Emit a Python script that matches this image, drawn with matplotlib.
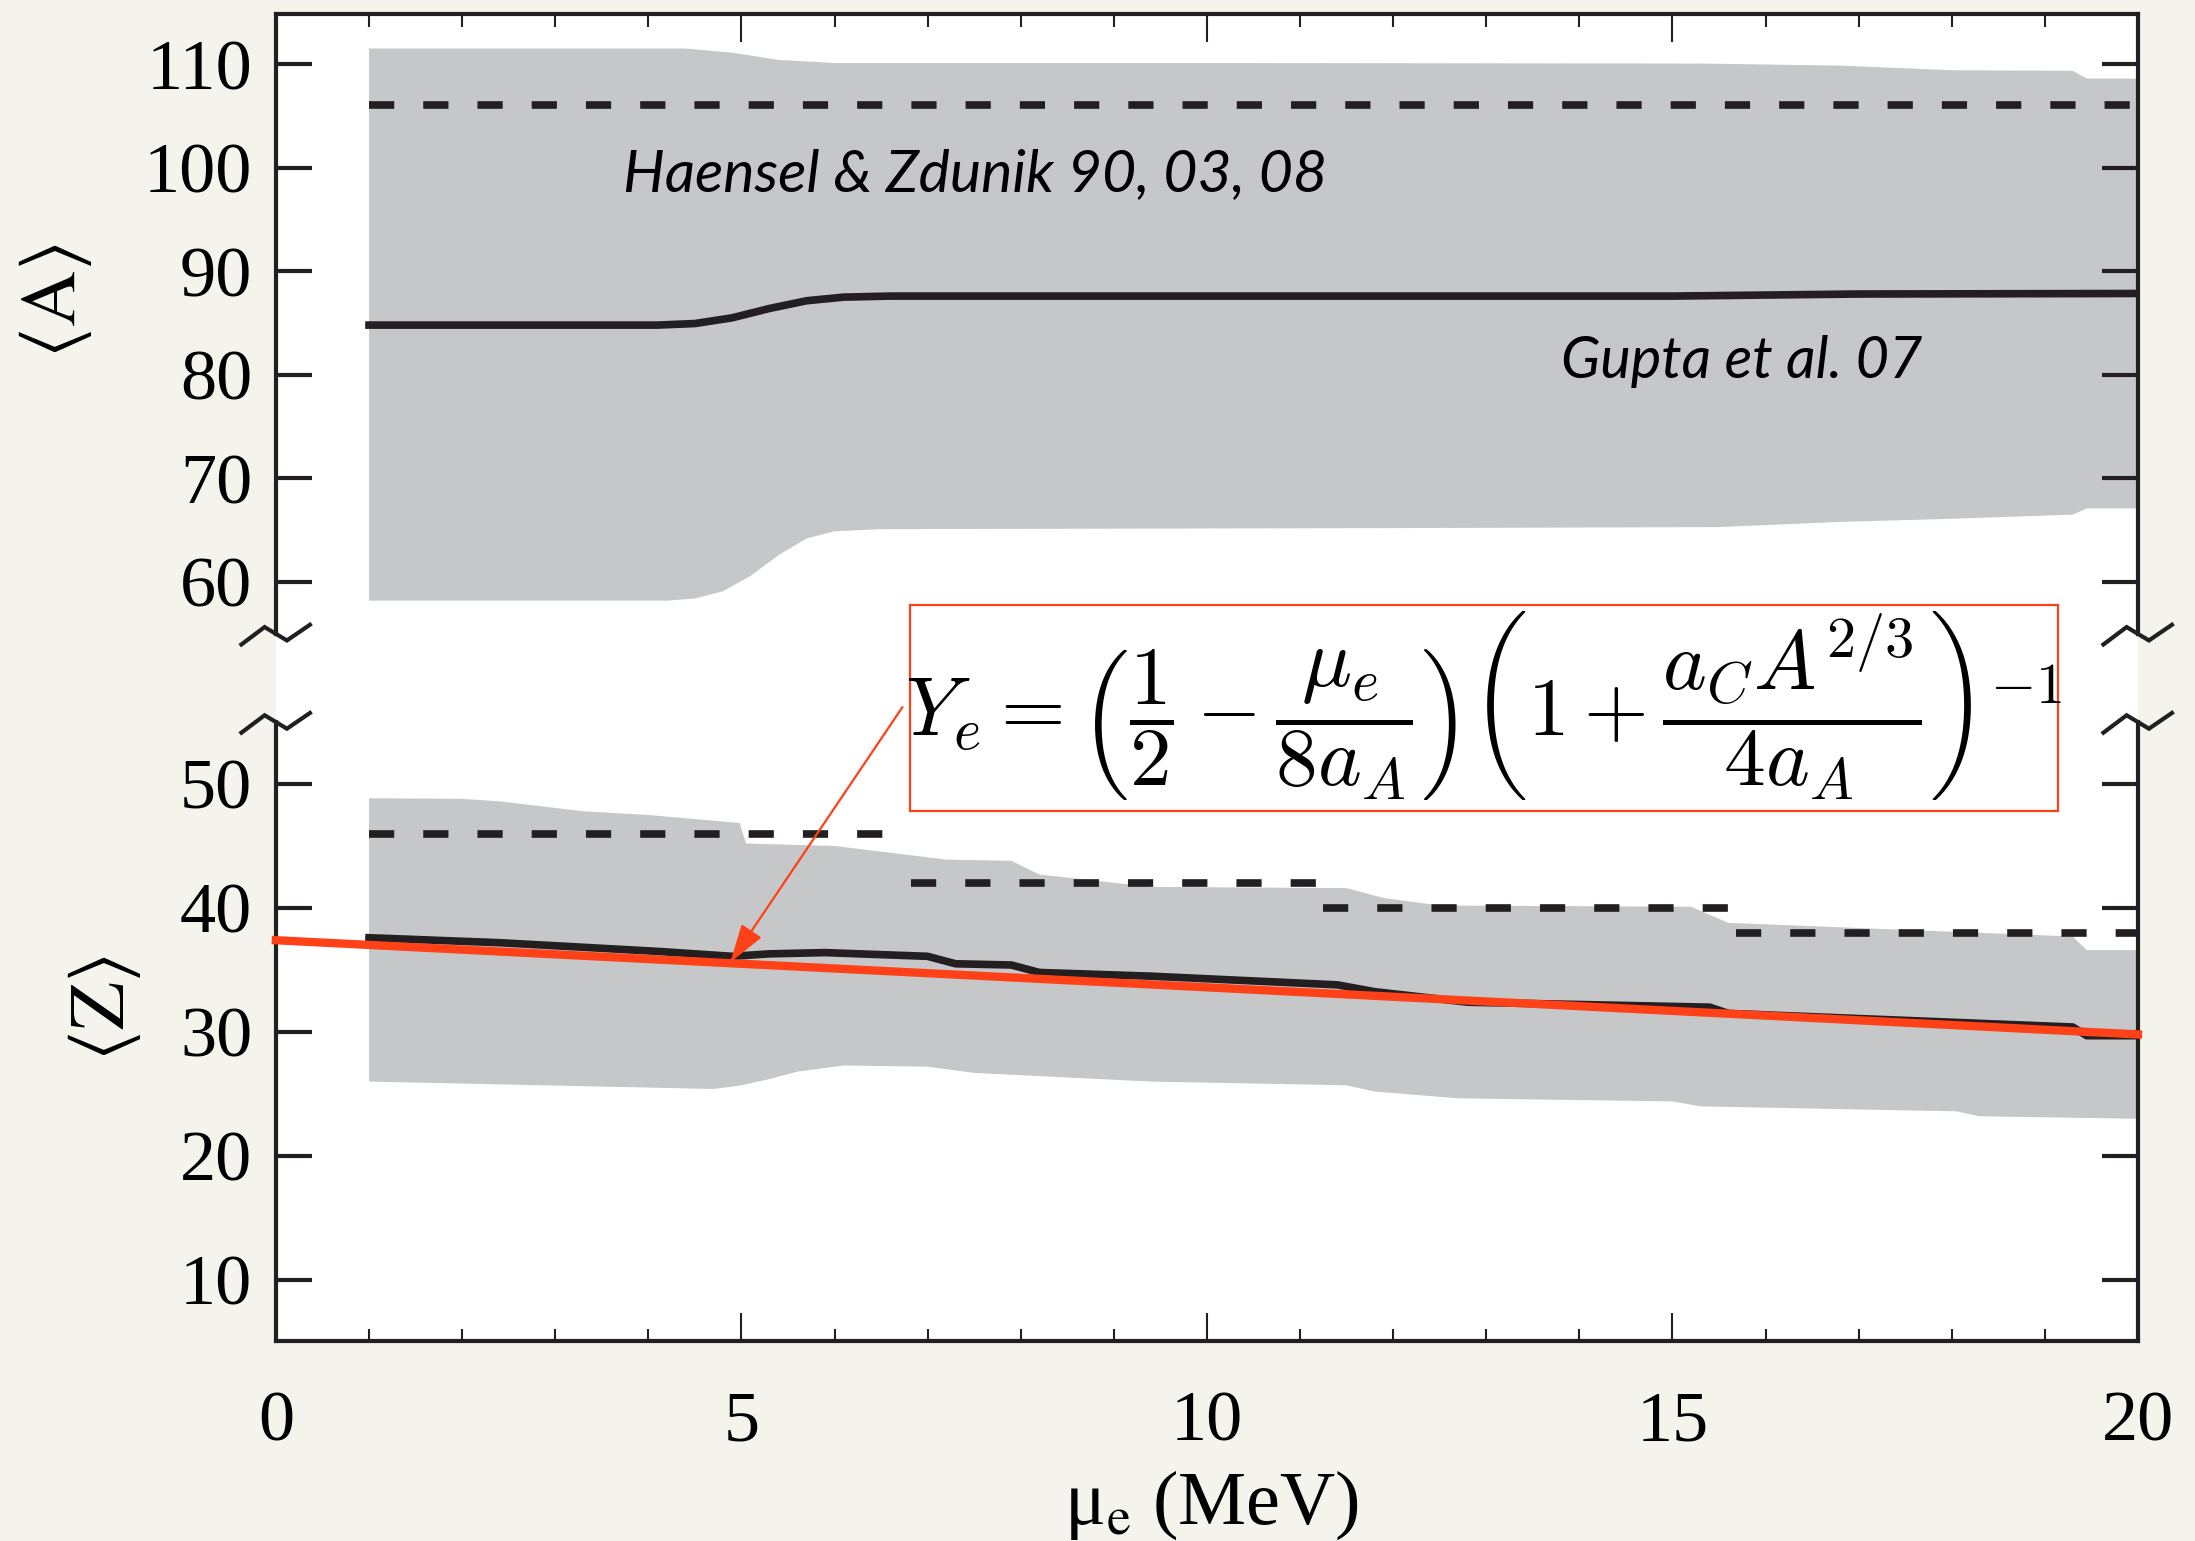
import matplotlib
matplotlib.use('Agg')
import matplotlib.pyplot as plt
import matplotlib.transforms as mtransforms
from matplotlib.patches import Rectangle
from matplotlib.ticker import MultipleLocator

# ---- top panel: <A> vs mu_e ----
a_hi_mu = [1, 4.4, 4.9, 5.4, 6.0, 10, 15.3, 16.8, 18.0, 19.3, 19.45, 20]
a_hi = [111.5, 111.5, 111.1, 110.4, 110.1, 110.1, 110.05, 109.85, 109.4, 109.35, 108.6, 108.6]
a_lo_mu = [1, 4.2, 4.5, 4.8, 5.1, 5.4, 5.7, 6.0, 6.5, 12, 15.5, 16.8, 18, 19.3, 19.45, 20]
a_lo = [58.2, 58.2, 58.4, 59.1, 60.6, 62.6, 64.2, 64.9, 65.1, 65.2, 65.3, 65.8, 66.1, 66.5, 67.1, 67.1]
a_mu = [1, 4.1, 4.5, 4.9, 5.3, 5.7, 6.1, 6.6, 10, 15, 17, 20]
a_mean = [84.8, 84.8, 84.95, 85.5, 86.4, 87.15, 87.5, 87.6, 87.6, 87.6, 87.8, 87.85]
hz_a_mu = [1, 20]
hz_a = [106, 106]

# ---- bottom panel: <Z> vs mu_e ----
z_hi_mu = [1, 2.0, 2.4, 3.3, 4.0, 4.98, 5.05, 6.0, 7.2, 7.9, 8.2, 9.4, 11.5, 11.9, 12.5, 15.2, 15.6, 19.3, 19.45, 20]
z_hi = [48.85, 48.8, 48.6, 47.8, 47.5, 46.85, 45.2, 45.0, 43.9, 43.8, 42.7, 41.7, 41.6, 40.8, 40.2, 40.1, 38.8, 37.7, 36.6, 36.6]
z_lo_mu = [1, 4.1, 4.7, 5.0, 5.3, 5.6, 6.1, 7.0, 7.5, 9.4, 11.5, 11.8, 12.7, 15.0, 15.3, 18.05, 18.3, 20]
z_lo = [26.0, 25.5, 25.4, 25.7, 26.2, 26.8, 27.3, 27.2, 26.7, 26.0, 25.7, 25.2, 24.65, 24.4, 24.0, 23.6, 23.2, 23.0]
z_mu = [1, 2.4, 4.1, 4.9, 5.3, 5.9, 7.0, 7.3, 7.9, 8.2, 9.4, 11.4, 11.8, 12.8, 15.4, 15.6, 19.3, 19.45, 20]
z_mean = [37.6, 37.2, 36.5, 36.1, 36.3, 36.4, 36.1, 35.5, 35.4, 34.8, 34.5, 33.8, 33.25, 32.4, 32.0, 31.5, 30.4, 29.7, 29.7]
hz_z_start = [1, 6.82, 11.25, 15.68]
hz_z_end = [6.75, 11.25, 15.68, 20]
hz_z = [46, 42, 40, 38]
fit_mu = [0, 20]
fit_z = [37.4, 29.8]

ink = '#231F20'
band = '#C6C7C9'
red = '#FF4117'
bg = '#F4F3EC'

plt.rcParams['font.family'] = 'Liberation Serif'

fig = plt.figure(figsize=(21.95, 15.41), dpi=100, facecolor=bg)
ax_a = fig.add_axes([0.1257, 0.5607, 0.8483, 0.4302])
ax_z = fig.add_axes([0.1257, 0.1298, 0.8483, 0.4309])

ax_a.fill(a_hi_mu + a_lo_mu[::-1], a_hi + a_lo[::-1], color=band, lw=0)
ax_a.plot(hz_a_mu, hz_a, color=ink, lw=5.5, dashes=(3.3, 3.8))
ax_a.plot(a_mu, a_mean, color=ink, lw=5.5)
ax_a.text(3.73, 99.3, 'Haensel & Zdunik 90, 03, 08', family='Lato', style='italic',
          fontsize=42.5, va='center', ha='left', color='black')
ax_a.text(13.8, 81.3, 'Gupta et al. 07', family='Lato', style='italic',
          fontsize=41.5, va='center', ha='left', color='black')

ax_z.fill(z_hi_mu + z_lo_mu[::-1], z_hi + z_lo[::-1], color=band, lw=0)
for x0, x1, z in zip(hz_z_start, hz_z_end, hz_z):
    ax_z.plot([x0, x1], [z, z], color=ink, lw=5.5, dashes=(3.3, 3.8))
ax_z.plot(z_mu, z_mean, color=ink, lw=5.5)
ax_z.plot(fit_mu, fit_z, color=red, lw=6, solid_capstyle='projecting', clip_on=False, zorder=5)
ax_z.annotate('', xy=(4.88, 35.6), xytext=(6.73, 56.2),
              arrowprops=dict(arrowstyle='-|>,head_length=0.8,head_width=0.25', color=red,
                              lw=1.6, mutation_scale=30, shrinkA=0, shrinkB=0), zorder=6)

# limits
ax_a.set_xlim(0, 20)
ax_z.set_xlim(0, 20)
ax_a.set_ylim(50.83, 114.83)
ax_z.set_ylim(5.08, 58.63)

for ax in (ax_a, ax_z):
    ax.set_facecolor('white')
    for s in ax.spines.values():
        s.set_linewidth(3)
        s.set_color(ink)
    ax.xaxis.set_major_locator(MultipleLocator(5))
    ax.xaxis.set_minor_locator(MultipleLocator(1))
    ax.tick_params(axis='x', which='major', direction='in', length=20, width=1.5, color=ink)
    ax.tick_params(axis='x', which='minor', direction='in', length=9, width=1.5, color=ink)
    ax.tick_params(axis='y', which='major', direction='in', length=26, width=3, color=ink,
                   left=True, right=True, labelsize=52, pad=17)

ax_a.spines['bottom'].set_visible(False)
ax_z.spines['top'].set_visible(False)
ax_a.spines['left'].set_bounds(55, 114.83)
ax_a.spines['right'].set_bounds(55, 114.83)
ax_z.spines['left'].set_bounds(5.08, 55)
ax_z.spines['right'].set_bounds(5.08, 55)

ax_a.set_yticks([60, 70, 80, 90, 100, 110])
ax_z.set_yticks([10, 20, 30, 40, 50])
ax_a.tick_params(axis='x', which='both', top=True, bottom=False, labelbottom=False, labeltop=False)
ax_z.tick_params(axis='x', which='both', top=False, bottom=True, labelsize=52, pad=36)

# axis-break zigzags on the spines
zx = [-0.345, -0.113, 0.11, 0.34]
zy = [-0.107, 0.067, -0.067, 0.09]


def zigzag(ax, xa, ya):
    base = mtransforms.blended_transform_factory(ax.transAxes, ax.transData)
    tr = fig.dpi_scale_trans + mtransforms.ScaledTranslation(xa, ya, base)
    ax.plot(zx, zy, transform=tr, clip_on=False, color=ink, lw=3, solid_joinstyle='miter')


for xa in (0, 1):
    zigzag(ax_a, xa, 55)
    zigzag(ax_z, xa, 55)

# formula box
fig.patches.append(Rectangle((0.4146, 0.4737), 0.523, 0.1337, transform=fig.transFigure,
                             fill=False, edgecolor=red, lw=1.6, zorder=4))
fig.text(0.4123, 0.5422,
         r'$Y_e = \left(\dfrac{1}{2} - \dfrac{\mu_e}{8a_A}\right)\left(1+\dfrac{a_C A^{2/3}}{4a_A}\right)^{-1}$',
         math_fontfamily='cm', fontsize=60, ha='left', va='center', zorder=5)

# axis labels
fig.text(0.0255, 0.8047, r'$\langle\mathrm{A}\rangle$', math_fontfamily='stix',
         fontsize=56, rotation=90, ha='center', va='center')
fig.text(0.0478, 0.3459, r'$\langle\mathrm{Z}\rangle$', math_fontfamily='stix',
         fontsize=56, rotation=90, ha='center', va='center')
fig.text(0.5517, 0.0234, 'μ$_\\mathrm{e}$ (MeV)', math_fontfamily='stix',
         fontsize=55, ha='center', va='center')

fig.savefig('out.png', dpi=100, facecolor=bg)
